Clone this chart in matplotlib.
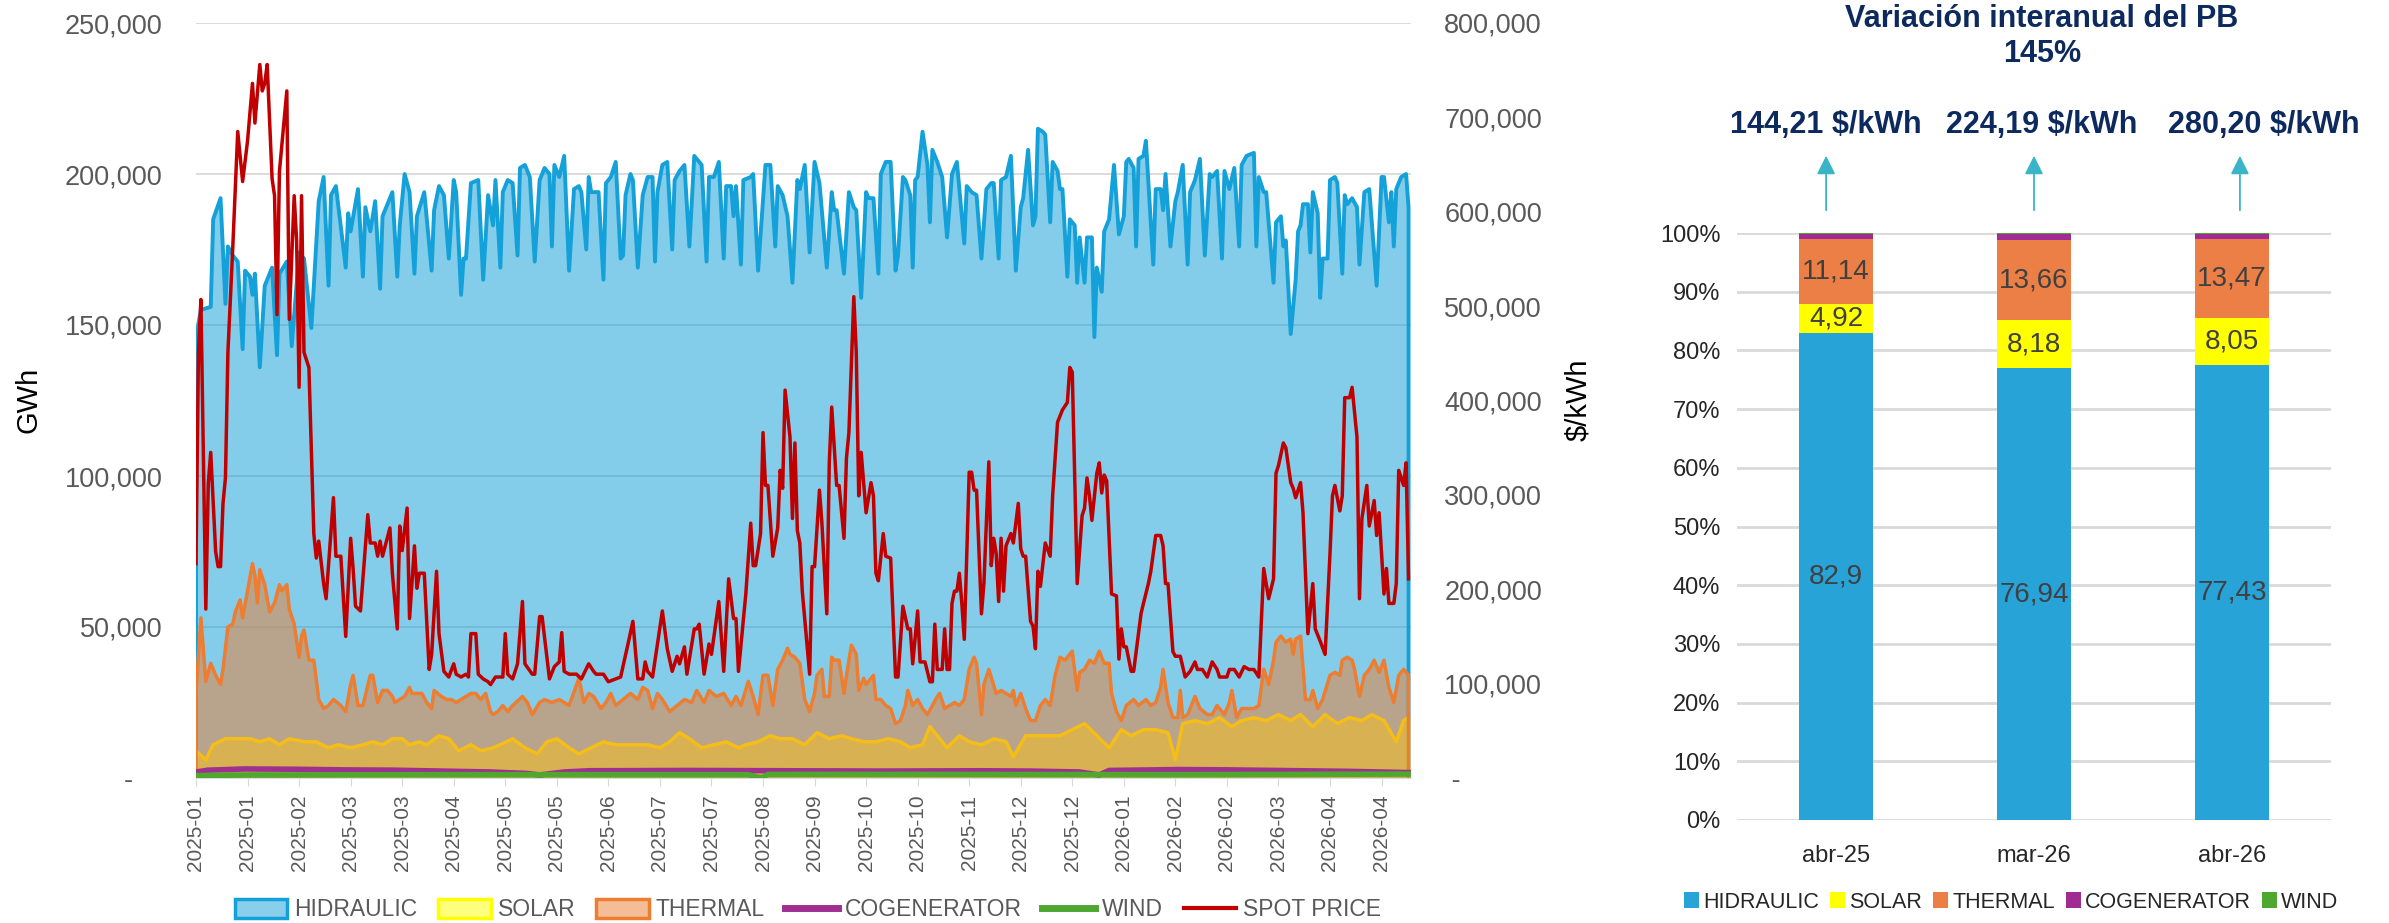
import numpy as np
import matplotlib
matplotlib.use("Agg")
import matplotlib.pyplot as plt
import matplotlib.dates as mdates
from matplotlib.patches import Patch
from matplotlib.lines import Line2D
from matplotlib.colors import to_rgba
from matplotlib.ticker import FuncFormatter, MultipleLocator

plt.rcParams['font.family'] = ['Liberation Sans', 'DejaVu Sans']

# ---- daily generation / spot price (day offsets from 2025-01-01, values in thousands) ----
START = np.datetime64('2025-01-01')

hydro_day = [
    0, 2, 6, 7, 10, 12, 13, 15, 17, 19, 20, 22, 23, 24, 26, 28, 31, 33, 34, 37,
    39, 42, 44, 47, 50, 52, 54, 55, 57, 61, 62, 63, 66, 68, 69, 71, 73, 75, 76, 80,
    82, 83, 85, 87, 89, 90, 93, 96, 97, 99, 101, 103, 105, 106, 108, 109, 110, 112, 115, 117,
    119, 121, 122, 124,
    125, 127, 129, 131, 132, 134, 136, 138, 140, 142, 144, 145, 146, 148, 150, 152, 154, 156, 157, 159,
    160, 161, 164, 166, 167, 169, 171, 173, 174, 175, 177, 178, 180, 182, 184, 186, 187, 188, 190, 192,
    194, 195, 197, 199, 201, 203, 205, 206, 208, 209, 211, 213, 215, 216, 218, 219, 220, 222, 223, 226,
    227, 229, 232, 234, 236, 237, 239, 241, 243,
    245, 246, 248, 250, 252, 254, 257, 259, 260, 261, 264, 266, 268, 269, 271, 273, 274, 276, 278, 279,
    281, 283, 285, 286, 288, 289, 291, 292, 293, 294, 296, 298, 299, 300, 302, 304, 306, 308, 310, 313,
    314, 316, 318, 320, 322, 324, 325, 327, 328, 330, 332, 334, 336, 337, 339, 341, 342, 343, 345, 346,
    348, 349, 351, 352, 353, 355, 356, 358, 359, 360, 362, 363, 365,
    366, 367, 369, 370, 372, 374, 376, 378, 379, 380, 382, 383, 384, 386, 387, 390, 391, 393, 394, 395,
    397, 399, 400, 402, 404, 405, 407, 409, 411, 413, 414, 416, 418, 419, 421, 423, 425, 426, 428, 431,
    432, 433, 435, 436, 439, 440, 442, 443, 444, 446, 448, 449, 450, 451, 453, 454, 455, 457, 458, 459,
    461, 462, 464, 465, 467, 468, 469, 471, 473, 474, 476, 478, 481, 483, 484, 486, 487, 488, 489, 491,
    493, 494]
hydro_gwh = [
    146, 155, 156, 185, 192, 157, 176, 173, 171, 142, 168, 166, 160, 167, 136, 163, 169, 140, 167, 171,
    143, 174, 172, 149, 191, 199, 163, 193, 196, 169, 187, 181, 195, 166, 189, 181, 191, 162, 186, 194,
    166, 183, 200, 194, 167, 186, 194, 168, 188, 196, 193, 172, 198, 194, 160, 172, 172, 197, 198, 165,
    193, 183, 198, 169,
    194, 198, 197, 173, 202, 203, 199, 171, 198, 202, 200, 176, 203, 199, 206, 168, 195, 196, 194, 175,
    199, 194, 194, 165, 197, 199, 204, 172, 173, 193, 200, 198, 169, 193, 199, 199, 171, 194, 203, 204,
    175, 198, 201, 203, 176, 206, 204, 203, 171, 199, 199, 204, 172, 196, 196, 186, 196, 170, 198, 199,
    200, 168, 203, 203, 176, 196, 193, 186, 164,
    198, 195, 203, 174, 204, 197, 169, 194, 188, 188, 167, 194, 189, 188, 159, 194, 192, 192, 167, 200,
    204, 204, 168, 173, 199, 198, 193, 169, 198, 199, 214, 203, 184, 208, 204, 199, 179, 200, 204, 177,
    196, 194, 193, 172, 195, 197, 197, 172, 198, 199, 206, 168, 189, 192, 208, 183, 186, 215, 214, 213,
    184, 204, 201, 195, 195, 166, 185, 183, 164, 179, 164, 179, 179,
    146, 169, 161, 181, 185, 203, 180, 186, 204, 205, 202, 176, 205, 206, 211, 170, 195, 195, 188, 200,
    176, 191, 194, 203, 170, 194, 198, 205, 173, 200, 199, 201, 172, 201, 195, 202, 176, 203, 206, 207,
    176, 199, 194, 194, 164, 184, 186, 176, 178, 147, 165, 181, 183, 190, 190, 174, 194, 187, 159, 172,
    172, 198, 199, 197, 167, 193, 190, 192, 189, 170, 194, 195, 163, 199, 199, 184, 194, 176, 195, 199,
    200, 189]

solar_day = [
    0, 4, 7, 12, 17, 22, 26, 30, 34, 38, 44, 49, 54, 58, 63, 68, 72, 76, 80, 84,
    87, 91, 94, 99, 103, 107, 112, 116, 121, 124, 129, 134, 139, 143, 147, 152, 156, 161, 166, 171,
    176, 179, 184, 189, 193, 197, 201, 206, 211, 216, 221, 224, 229, 234, 238, 243, 248, 253, 258, 263,
    267, 272, 277, 282, 287, 291, 296, 299, 303, 306, 311, 315, 320, 325, 330, 333, 338, 343, 348, 352,
    357, 362, 367, 372, 377, 381, 386, 391, 396, 399, 402, 407, 412, 417, 422, 426, 431, 436, 441, 446,
    450, 455, 460, 465, 470, 475, 479, 484, 489, 492, 494]
solar_gwh = [
    9, 6, 11, 13, 13, 13, 12, 13, 11, 13, 12, 12, 10, 11, 10, 11, 12, 11, 13, 13,
    11, 12, 11, 14, 13, 9, 11, 9, 10, 11, 13, 10, 8, 12, 13, 10, 8, 10, 12, 11,
    11, 11, 11, 10, 12, 15, 13, 10, 11, 12, 10, 11, 12, 14, 13, 13, 11, 15, 13, 14,
    13, 12, 12, 13, 12, 10, 11, 17, 13, 10, 14, 12, 11, 13, 12, 7, 14, 14, 14, 14,
    16, 18, 14, 10, 16, 14, 16, 16, 15, 6, 18, 19, 18, 20, 17, 19, 20, 19, 21, 19,
    21, 17, 21, 18, 20, 19, 21, 19, 12, 19, 20]

thermal_day = [
    0, 2, 4, 6, 8, 10, 11, 13, 15, 16, 18, 19, 21, 23, 24, 25, 26, 28, 30, 32,
    34, 35, 37, 38, 40, 42, 43, 44, 46, 48, 50, 52, 54, 56, 59, 61, 63, 64, 66, 68,
    71, 72, 74, 76, 78, 80, 81, 83, 85, 87, 88, 90, 92, 94, 96, 97, 100, 102, 104, 106,
    108, 110, 112, 114, 116, 118, 120, 121, 123,
    125, 127, 129, 133, 135, 137, 140, 142, 145, 148, 150, 152, 156, 158, 160, 162, 165, 167, 169, 171,
    174, 177, 180, 182, 184, 186, 188, 190, 193, 196, 199, 202, 204, 207, 209, 212, 215, 218, 220, 222,
    225, 227, 229, 231, 233, 235, 237, 239, 241, 242, 244, 246,
    248, 250, 252, 253, 255, 256, 258, 259, 260, 262, 264, 265, 267, 269, 270, 272, 273, 276, 277, 279,
    281, 283, 285, 287, 289, 290, 292, 294, 296, 298, 300, 302, 303, 305, 307, 309, 311, 313, 315, 317,
    318, 320, 321, 323, 326, 328, 330, 332, 333, 334, 336, 338, 340, 342, 344, 346, 348, 350, 352, 354,
    356, 357, 359, 360, 362, 364, 366, 368, 370, 372,
    373, 375, 377, 379, 382, 384, 387, 389, 391, 393, 394, 396, 398, 400, 401, 402, 404, 407, 409, 412,
    414, 416, 419, 421, 422, 424, 426, 428, 431, 433, 435, 437, 439, 440, 442, 444, 446, 447, 448, 450,
    452, 454, 455, 457, 459, 462, 464, 466, 467, 469, 471, 472, 474, 476, 478, 480, 482, 484, 486, 488,
    490, 492, 494]
thermal_gwh = [
    28, 53, 32, 38, 34, 31, 36, 50, 51, 55, 59, 53, 62, 71, 67, 58, 69, 64, 55, 58,
    64, 62, 64, 56, 51, 40, 47, 49, 39, 39, 26, 23, 24, 26, 24, 22, 31, 34, 24, 24,
    34, 34, 25, 29, 29, 27, 25, 26, 27, 30, 28, 28, 28, 25, 23, 29, 27, 26, 26, 25,
    26, 27, 28, 28, 26, 28, 22, 21, 22,
    24, 22, 24, 27, 25, 21, 25, 26, 25, 26, 25, 24, 33, 25, 28, 27, 23, 25, 28, 24,
    26, 28, 26, 30, 29, 23, 28, 26, 22, 24, 26, 25, 29, 25, 29, 27, 28, 24, 27, 24,
    32, 27, 21, 34, 34, 24, 36, 39, 43, 41, 40, 38,
    26, 22, 28, 34, 36, 27, 27, 40, 39, 39, 28, 34, 44, 41, 29, 33, 31, 34, 26, 26,
    24, 23, 18, 19, 24, 29, 24, 26, 23, 21, 24, 27, 28, 23, 24, 25, 24, 26, 36, 40,
    38, 21, 31, 36, 28, 29, 28, 27, 29, 24, 28, 23, 19, 19, 24, 26, 24, 34, 40, 39,
    41, 42, 29, 35, 36, 39, 38, 42, 38, 38,
    28, 22, 19, 24, 26, 24, 26, 24, 25, 30, 36, 25, 20, 20, 29, 20, 21, 27, 23, 21,
    21, 24, 21, 25, 29, 20, 23, 23, 23, 24, 36, 31, 39, 45, 47, 45, 46, 41, 46, 47,
    26, 26, 29, 23, 26, 34, 35, 34, 39, 40, 39, 36, 27, 34, 36, 39, 35, 39, 30, 25,
    34, 36, 34]

cogen_day = [0, 5, 20, 40, 60, 80, 100, 120, 135, 140, 150, 160, 200, 240, 280, 320, 340, 360,
             368, 372, 400, 420, 450, 470, 494]
cogen_gwh = [2.0, 2.6, 3.0, 2.9, 2.7, 2.6, 2.3, 2.0, 1.5, 1.0, 2.0, 2.4, 2.5, 2.4, 2.3, 2.4, 2.3, 2.0,
             1.0, 2.5, 2.8, 2.7, 2.4, 2.2, 1.8]

wind_day = [0, 20, 100, 225, 229, 231, 233, 300, 400, 494]
wind_gwh = [0.8, 1.0, 1.1, 1.1, 0.2, 0.2, 1.2, 1.2, 1.1, 1.3]

spot_day = [
    0, 1, 2, 4, 5, 6, 8, 9, 10, 11, 12, 13, 15, 17, 19, 21, 23, 24, 26, 27,
    28, 29, 31, 32, 33, 34, 37, 38, 40, 41, 42, 43, 44, 46, 47, 48, 49, 50, 52, 53,
    56, 57, 59, 61, 63, 64, 65, 67, 70, 71, 73, 74, 75, 76, 79, 80, 82, 83, 84, 86,
    87, 89, 90, 91, 93, 95, 96, 98, 99, 101, 103, 105, 106, 108, 110, 111, 112, 114, 115, 117,
    119,
    120, 122, 125, 126, 127, 129, 131, 133, 134, 137, 138, 140, 141, 144, 146, 148, 149, 150, 152, 155,
    157, 160, 162, 163, 166, 168, 171, 173, 176, 178, 180, 182, 183, 184, 186, 190, 192, 194, 196, 197,
    199, 200, 203, 204, 205, 207, 209, 210, 213, 215, 217, 219, 220, 221, 224, 226, 227, 228, 230, 231,
    232, 233, 235, 237, 238, 239, 240, 242, 243, 244, 245,
    246, 247, 250, 251, 252, 254, 255, 257, 258, 259, 261, 262, 264, 265, 266, 268, 269, 270, 271, 273,
    275, 276, 277, 278, 280, 281, 283, 285, 286, 288, 290, 291, 292, 294, 295, 296, 297, 299, 300, 301,
    302, 304, 305, 306, 307, 308, 309, 310, 311, 312, 313, 315, 316, 317, 318, 320, 321, 323, 324, 325,
    326, 327, 328, 329, 330, 332, 333, 335, 336, 337, 338, 340, 341, 342, 343, 344, 346, 348, 349, 351,
    353, 355, 356, 357, 359, 361, 362, 363, 364,
    365, 367, 368, 369, 370, 371, 373, 375, 376, 377, 378, 379, 381, 382, 385, 386, 388, 389, 391, 393,
    394, 395, 396, 398, 399, 401, 403, 405, 407, 408, 410, 412, 414, 416, 417, 420, 421, 423, 425, 427,
    429, 431, 433, 435, 437, 439, 440, 441, 443, 444, 446, 447, 448, 450, 451, 453, 455, 456, 458, 460,
    462, 463, 464, 466, 467, 468, 470, 471, 473, 474, 475, 477, 478, 480, 481, 482, 484, 485, 486, 488,
    489, 490, 492, 493, 494]
spot_price = [
    227, 451, 507, 179, 312, 345, 240, 224, 224, 291, 318, 451, 563, 685, 632, 675, 736, 694, 756, 728,
    736, 756, 635, 617, 491, 643, 728, 486, 617, 569, 414, 617, 451, 435, 345, 259, 233, 251, 206, 190,
    297, 235, 235, 150, 254, 222, 182, 177, 279, 249, 249, 235, 251, 235, 265, 217, 158, 267, 241, 286,
    169, 246, 201, 217, 217, 115, 131, 219, 153, 113, 107, 121, 110, 107, 110, 107, 153, 153, 110, 105,
    102,
    99, 107, 107, 153, 110, 105, 121, 187, 121, 110, 110, 171, 171, 105, 118, 123, 154, 113, 110, 110,
    105, 121, 113, 110, 110, 102, 105, 107, 142, 166, 105, 105, 123, 113, 107, 177, 137, 113, 129, 121,
    139, 110, 158, 158, 163, 110, 142, 131, 187, 113, 211, 169, 169, 113, 195, 270, 225, 225, 259, 366,
    310, 310, 235, 265, 326, 307, 411, 361, 275, 355, 262,
    249, 198, 110, 224, 224, 305, 270, 174, 334, 393, 310, 310, 254, 339, 366, 510, 451, 299, 345, 281,
    313, 299, 217, 209, 259, 235, 233, 107, 107, 182, 158, 158, 121, 177, 123, 123, 123, 102, 102, 163,
    115, 115, 158, 115, 115, 185, 198, 198, 217, 185, 147, 324, 324, 305, 305, 174, 206, 335, 225, 254,
    238, 187, 254, 198, 246, 259, 249, 291, 243, 235, 235, 166, 161, 137, 219, 203, 249, 235, 299, 377,
    390, 398, 435, 430, 206, 278, 286, 318, 299,
    273, 323, 334, 302, 321, 315, 195, 193, 126, 158, 139, 139, 113, 113, 174, 185, 206, 219, 257, 257,
    246, 206, 206, 134, 129, 129, 107, 113, 123, 115, 115, 107, 123, 115, 107, 107, 115, 115, 107, 118,
    115, 115, 107, 222, 190, 211, 323, 331, 355, 350, 313, 307, 297, 313, 281, 153, 206, 158, 145, 131,
    238, 299, 310, 283, 299, 403, 403, 414, 361, 190, 275, 310, 267, 294, 257, 281, 195, 222, 185, 185,
    206, 326, 310, 334, 211]

# ---- monthly mix (right panel) ----
months = ['abr-25', 'mar-26', 'abr-26']
mix_hidraulic = [82.90, 76.94, 77.43]
mix_solar = [4.92, 8.18, 8.05]
mix_thermal = [11.14, 13.66, 13.47]
mix_cogen = [0.85, 1.00, 0.85]
mix_wind = [0.19, 0.22, 0.20]
pb_price = [144.21, 224.19, 280.20]
pb_title = 'Variación interanual del PB'
pb_change = '145%'

C_HYD = '#14A0D8'
C_SOL = '#FFFF00'
C_THE = '#ED7D31'
C_COG = '#A0308F'
C_WIN = '#4EA72E'
C_SPOT = '#C00000'
GRAY = '#595959'
NAVY = '#0D2A5E'

W, H = 2389, 923
fig = plt.figure(figsize=(W / 100, H / 100), dpi=100)


def dnum(days):
    return mdates.date2num(START + np.array(days, dtype='timedelta64[D]'))


# ---------------- left: daily chart ----------------
ax = fig.add_axes([196 / W, 1 - 778 / H, (1411 - 196) / W, (778 - 23) / H])
ax.set_axisbelow(True)
ax.grid(axis='y', color='#D9D9D9', lw=1.3)


def area(days, vals, color, alpha, z, lw):
    x = dnum(days)
    y = np.array(vals) * 1000
    ax.fill_between(x, 0, y, color=color, alpha=alpha, lw=0, zorder=z)
    ax.plot(np.r_[x[0], x, x[-1]], np.r_[0, y, 0], color=color, lw=lw, zorder=z + 0.05)


area(hydro_day, hydro_gwh, C_HYD, 0.52, 2.0, 2.8)
area(solar_day, solar_gwh, C_SOL, 0.5, 2.2, 2.5)
area(thermal_day, thermal_gwh, C_THE, 0.5, 2.4, 2.5)
ax.plot(dnum(cogen_day), np.array(cogen_gwh) * 1000, color=C_COG, lw=4, zorder=2.6)
ax.plot(dnum(wind_day), np.array(wind_gwh) * 1000, color=C_WIN, lw=4, zorder=2.7)

ax.set_xlim(dnum([0])[0], dnum([495])[0])
ax.set_ylim(0, 250000)
ax.yaxis.set_major_locator(MultipleLocator(50000))
ax.yaxis.set_major_formatter(FuncFormatter(lambda v, p: '-    ' if v == 0 else f'{v:,.0f}'))
ax.set_xticks(dnum(np.arange(0, 484, 21)))
ax.xaxis.set_major_formatter(mdates.DateFormatter('%Y-%m'))
ax.tick_params(axis='x', labelrotation=90, labelsize=15, colors='#D9D9D9', labelcolor=GRAY,
               length=6, pad=6)
ax.tick_params(axis='y', length=0, labelsize=19.5, labelcolor=GRAY, pad=24)
for s in ['top', 'left', 'right']:
    ax.spines[s].set_visible(False)
ax.spines['bottom'].set_color('#D9D9D9')

ax_r = ax.twinx()
ax_r.plot(dnum(spot_day), np.array(spot_price) * 1000, color=C_SPOT, lw=2.5, zorder=5)
ax_r.set_ylim(0, 800000)
ax_r.yaxis.set_major_locator(MultipleLocator(100000))
ax_r.yaxis.set_major_formatter(FuncFormatter(lambda v, p: ' -' if v == 0 else f'{v:,.0f}'))
ax_r.tick_params(axis='y', length=0, labelsize=19.5, labelcolor=GRAY, pad=24)
for s in ax_r.spines.values():
    s.set_visible(False)

fig.text(28 / W, 1 - 400 / H, 'GWh', rotation=90, ha='center', va='center', fontsize=21)
fig.text(1578 / W, 1 - 400 / H, '$/kWh', rotation=90, ha='center', va='center', fontsize=21)

handles = [
    Patch(facecolor=to_rgba(C_HYD, 0.5), edgecolor=C_HYD, lw=2.5),
    Patch(facecolor=to_rgba(C_SOL, 0.5), edgecolor=C_SOL, lw=2.5),
    Patch(facecolor=to_rgba(C_THE, 0.5), edgecolor=C_THE, lw=2.5),
    Line2D([], [], color=C_COG, lw=5),
    Line2D([], [], color=C_WIN, lw=5),
    Line2D([], [], color=C_SPOT, lw=3),
]
leg = fig.legend(handles, ['HIDRAULIC', 'SOLAR', 'THERMAL', 'COGENERATOR', 'WIND', 'SPOT PRICE'],
                 loc='center', bbox_to_anchor=(808 / W, 1 - 910 / H), ncol=6, frameon=False,
                 fontsize=16.5, handlelength=2.3, handleheight=0.85, handletextpad=0.3,
                 columnspacing=0.9)
for t in leg.get_texts():
    t.set_color(GRAY)

# ---------------- right: 100% stacked bars ----------------
bx = fig.add_axes([1737 / W, 1 - 820 / H, (2331 - 1737) / W, (820 - 233) / H])
bx.set_axisbelow(True)
bx.grid(axis='y', color='#D9D9D9', lw=2)
xs = np.arange(len(months))
series = [('HIDRAULIC', mix_hidraulic, '#27A3D8', True),
          ('SOLAR', mix_solar, '#FFFF00', True),
          ('THERMAL', mix_thermal, '#EB7F45', True),
          ('COGENERATOR', mix_cogen, '#A02B93', False),
          ('WIND', mix_wind, '#4EA72E', False)]
bottom = np.zeros(len(months))
for name, vals, col, lab in series:
    vals = np.array(vals)
    bx.bar(xs, vals, 0.37, bottom=bottom, color=col, label=name, zorder=2)
    if lab:
        for x, v, b in zip(xs, vals, bottom):
            bx.text(x, b + v / 2, f'{v:g}'.replace('.', ','), ha='center', va='center',
                    fontsize=20, color='#404040', zorder=3)
    bottom += vals

bx.set_xlim(-0.5, 2.5)
bx.set_ylim(0, 100)
bx.set_yticks(np.arange(0, 101, 10))
bx.yaxis.set_major_formatter(FuncFormatter(lambda v, p: f'{v:.0f}%'))
bx.set_xticks(xs)
bx.set_xticklabels(months)
bx.tick_params(axis='y', length=0, labelsize=17, labelcolor='#262626', pad=12)
bx.tick_params(axis='x', length=0, labelsize=17, labelcolor='#262626', pad=18)
for s in bx.spines.values():
    s.set_visible(False)

fig.text(2042 / W, 1 - 19 / H, pb_title, ha='center', va='center', fontsize=22,
         weight='bold', color=NAVY)
fig.text(2042 / W, 1 - 54 / H, pb_change, ha='center', va='center', fontsize=22,
         weight='bold', color=NAVY)

label_shift = [-0.05, 0.04, 0.16]
arrow_shift = [-0.05, 0.0, 0.04]
for x, p, ls, ar in zip(xs, pb_price, label_shift, arrow_shift):
    bx.annotate(f'{p:.2f}'.replace('.', ',') + ' $/kWh', xy=(x + ls, 1 - 125 / H),
                xycoords=('data', 'figure fraction'), ha='center', va='center',
                fontsize=22, weight='bold', color=NAVY, annotation_clip=False)
    bx.annotate('', xy=(x + ar, 1 - 153 / H), xytext=(x + ar, 1 - 213 / H),
                xycoords=('data', 'figure fraction'), textcoords=('data', 'figure fraction'),
                arrowprops=dict(arrowstyle='-|>', color='#3AB5C8', lw=1.3, mutation_scale=28),
                annotation_clip=False)

leg2 = fig.legend(*bx.get_legend_handles_labels(), loc='center',
                  bbox_to_anchor=(2011 / W, 1 - 902 / H), ncol=5, frameon=False, fontsize=15.5,
                  handlelength=0.7, handleheight=0.7, handletextpad=0.2, columnspacing=0.5)
for t in leg2.get_texts():
    t.set_color('#262626')

fig.savefig('out.png', dpi=100)
